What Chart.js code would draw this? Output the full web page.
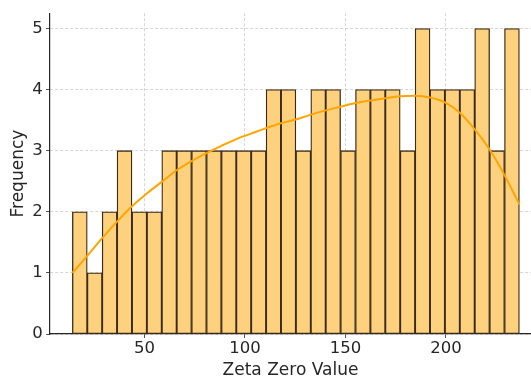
<!DOCTYPE html>
<html>
<head>
<meta charset="utf-8">
<script src="https://cdn.jsdelivr.net/npm/chart.js@4.4.1/dist/chart.umd.min.js"></script>
<style>
  html, body { margin: 0; padding: 0; background: #fff; overflow: hidden; }
  #wrap { width: 531px; height: 380px; position: relative; }
</style>
</head>
<body>
<div id="wrap"><canvas id="c" width="531" height="380"></canvas></div>
<script>
// Histogram of zeta zero values (30 bins from 14.13 to 236.52)
const binEdges = [14.13, 21.55, 28.96, 36.37, 43.79, 51.20, 58.61, 66.03, 73.44, 80.85,
  88.27, 95.68, 103.09, 110.51, 117.92, 125.33, 132.75, 140.16, 147.57, 154.99,
  162.40, 169.81, 177.23, 184.64, 192.05, 199.47, 206.88, 214.29, 221.71, 229.12, 236.52];
const counts = [2, 1, 2, 3, 2, 2, 3, 3, 3, 3, 3, 3, 3, 4, 4,
  3, 4, 4, 3, 4, 4, 4, 3, 5, 4, 4, 4, 5, 3, 5];
// KDE curve (scaled to counts), read at bin edges
const kdeValues = [1.00, 1.28, 1.57, 1.84, 2.09, 2.30, 2.49, 2.68, 2.83, 2.96,
  3.08, 3.19, 3.28, 3.37, 3.45, 3.51, 3.59, 3.66, 3.72, 3.78,
  3.82, 3.86, 3.89, 3.90, 3.87, 3.79, 3.62, 3.35, 3.02, 2.60, 2.12];
const xTicks = [50, 100, 150, 200];
const yTicks = [0, 1, 2, 3, 4, 5];

const barData = counts.map((c, i) => ({ x: (binEdges[i] + binEdges[i + 1]) / 2, y: c }));
const kdeData = kdeValues.map((v, i) => ({ x: binEdges[i], y: v }));

const FONT = "'DejaVu Sans', sans-serif";
const gridColor = 'rgba(176,176,176,0.65)';
const textColor = '#262626';

new Chart(document.getElementById('c'), {
  type: 'bar',
  data: {
    datasets: [
      {
        type: 'line',
        data: kdeData,
        borderColor: '#FFA500',
        borderWidth: 2,
        pointRadius: 0,
        tension: 0.4,
        cubicInterpolationMode: 'monotone',
        fill: false,
        order: 0
      },
      {
        type: 'bar',
        data: barData,
        backgroundColor: '#FED17F',
        borderColor: '#3a2a18',
        borderWidth: 1.3,
        borderSkipped: false,
        barPercentage: 1.0,
        categoryPercentage: 1.0,
        grouped: false,
        order: 1
      }
    ]
  },
  options: {
    responsive: false,
    animation: false,
    devicePixelRatio: 1,
    layout: { padding: { top: 9.5, right: 0, left: 0, bottom: 0 } },
    plugins: { legend: { display: false }, tooltip: { enabled: false } },
    scales: {
      x: {
        type: 'linear',
        offset: false,
        min: 3.01,
        max: 242.3,
        afterBuildTicks: (s) => { s.ticks = xTicks.map(v => ({ value: v })); },
        afterFit: (s) => { s.height = 46; },
        ticks: { color: textColor, font: { family: FONT, size: 16.5 }, padding: 1, maxRotation: 0 },
        grid: {
          color: gridColor, lineWidth: 0.8, offset: false,
          tickColor: textColor, tickLength: 4, tickBorderDash: []
        },
        border: { display: true, color: textColor, width: 1.2, dash: [3, 2] },
        title: {
          display: true, text: 'Zeta Zero Value', color: textColor,
          font: { family: FONT, size: 17, lineHeight: 1 }, padding: { top: 0, bottom: 0.5 }
        }
      },
      y: {
        type: 'linear',
        min: 0,
        max: 5.25,
        afterBuildTicks: (s) => { s.ticks = yTicks.map(v => ({ value: v })); },
        afterFit: (s) => { s.width = 50; },
        ticks: { color: textColor, font: { family: FONT, size: 16.5 }, padding: 3.3 },
        grid: {
          color: gridColor, lineWidth: 0.8,
          tickColor: textColor, tickLength: 4, tickBorderDash: []
        },
        border: { display: true, color: textColor, width: 1.2, dash: [3, 2] },
        title: {
          display: true, text: 'Frequency', color: textColor,
          font: { family: FONT, size: 17, lineHeight: 1 }, padding: { top: 10, bottom: 0 }
        }
      }
    }
  }
});
</script>
</body>
</html>
